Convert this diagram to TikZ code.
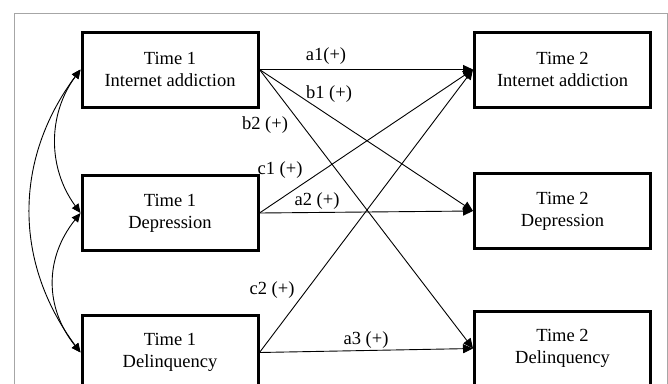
\documentclass[tikz,border=0pt]{standalone}
\usepackage{fontspec}
\setmainfont{Liberation Serif}
\usetikzlibrary{arrows.meta}
\begin{document}
\begin{tikzpicture}[x=1pt,y=-1pt,
  box/.style={draw, line width=3pt, minimum width=176pt, minimum height=75pt, align=center,
    font=\fontsize{18.5}{22}\selectfont, inner sep=0pt},
  lbl/.style={font=\fontsize{18.5}{22}\selectfont, inner sep=0pt},
  arr/.style={-{Triangle[length=10pt,width=9pt]}, line width=0.9pt},
  dbl/.style={{Triangle[length=9pt,width=8pt]}-{Triangle[length=9pt,width=8pt]}, line width=0.9pt}]
\useasboundingbox (0,0) rectangle (668,383);
\clip (0,0) rectangle (668,383);
\draw[black!35, line width=1pt] (14,400) -- (14,13) -- (667,13) -- (667,400);
\node[box] (t1ia) at (170,69.5) {Time 1\\Internet addiction};
\node[box] (t1dep) at (170,213) {Time 1\\Depression};
\node[box] (t1del) at (170,352.5) {Time 1\\Delinquency};
\node[box] (t2ia) at (562.5,69.5) {Time 2\\Internet addiction};
\node[box] (t2dep) at (562.5,211) {Time 2\\Depression};
\node[box] (t2del) at (562.5,348.5) {Time 2\\Delinquency};
\draw[arr] (t1ia.east) -- (t2ia.west);
\draw[arr] (t1ia.east) -- (t2dep.west);
\draw[arr] (t1ia.east) -- (t2del.west);
\draw[arr] (t1dep.east) -- (t2ia.west);
\draw[arr] (t1dep.east) -- (t2dep.west);
\draw[arr] (t1del.east) -- (t2ia.west);
\draw[arr] (t1del.east) -- (t2del.west);
\draw[dbl] (t1ia.west) .. controls +(-33,45) and +(-33,-45) .. (t1dep.west);
\draw[dbl] (t1dep.west) .. controls +(-36,45) and +(-36,-45) .. (t1del.west);
\draw[dbl] (t1ia.west) .. controls +(-67,90) and +(-67,-90) .. (t1del.west);
\node[lbl] (la1) at (326,56) {a1(+)};
\node[lbl] (lb1) at (329,94) {b1 (+)};
\node[lbl] (lb2) at (265,125) {b2 (+)};
\node[lbl] (lc1) at (280,170) {c1 (+)};
\node[lbl] (la2) at (317,201) {a2 (+)};
\node[lbl] (lc2) at (272,290) {c2 (+)};
\node[lbl] (la3) at (366,340) {a3 (+)};
\end{tikzpicture}
\end{document}
